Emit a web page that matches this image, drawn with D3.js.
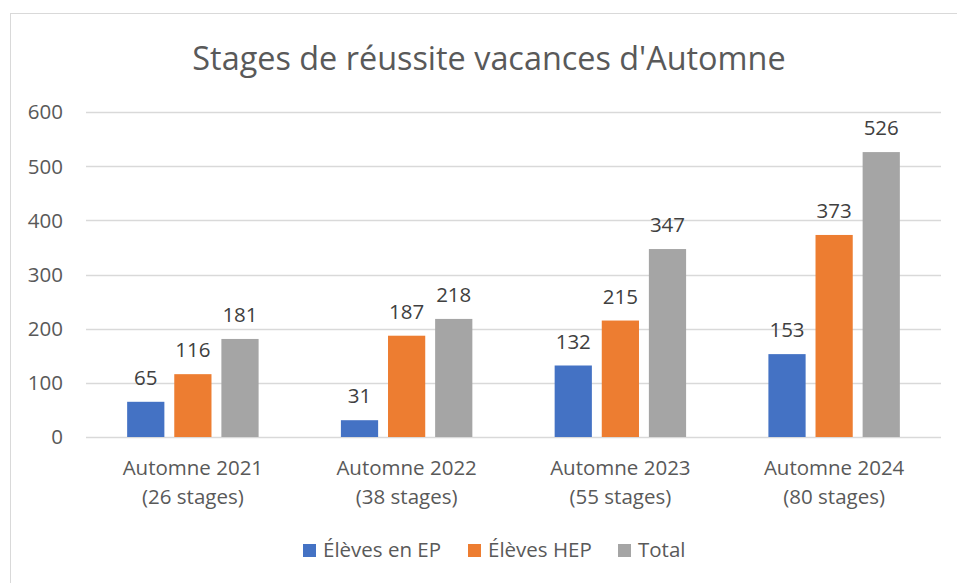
<!DOCTYPE html>
<html>
<head>
<meta charset="utf-8">
<script src="https://cdn.jsdelivr.net/npm/d3@7"></script>
<style>
  body { margin: 0; background: #fff; }
  text { font-family: "Open Sans", sans-serif; }
</style>
</head>
<body>
<div id="wrapper"></div>
<script>
const categories = ["Automne 2021", "Automne 2022", "Automne 2023", "Automne 2024"];
const subLabels = ["(26 stages)", "(38 stages)", "(55 stages)", "(80 stages)"];
const seriesNames = ["Élèves en EP", "Élèves HEP", "Total"];
const elevesEP = [65, 31, 132, 153];
const elevesHEP = [116, 187, 215, 373];
const total = [181, 218, 347, 526];
const yTicks = [0, 100, 200, 300, 400, 500, 600];

const colors = ["#4472C4", "#ED7D31", "#A5A5A5"];
const seriesValues = [elevesEP, elevesHEP, total];

const dimensions = {
  width: 957,
  height: 583,
  margin: { top: 112, right: 16, bottom: 146, left: 86 },
};
dimensions.boundedWidth = dimensions.width - dimensions.margin.left - dimensions.margin.right;
dimensions.boundedHeight = dimensions.height - dimensions.margin.top - dimensions.margin.bottom;

const wrapper = d3.select("#wrapper")
  .append("svg")
  .attr("width", dimensions.width)
  .attr("height", dimensions.height);

// cadre du graphique
wrapper.append("rect")
  .attr("x", 10.5).attr("y", 13.5)
  .attr("width", 980).attr("height", 600)
  .attr("fill", "none")
  .attr("stroke", "#D9D9D9");

wrapper.append("text")
  .attr("x", 489)
  .attr("y", 70)
  .attr("text-anchor", "middle")
  .style("font-size", "32.4px")
  .style("fill", "#595959")
  .text("Stages de réussite vacances d'Automne");

const bounds = wrapper.append("g")
  .attr("transform", `translate(${dimensions.margin.left},${dimensions.margin.top})`);

const xScale = d3.scaleBand()
  .domain(categories)
  .range([0, dimensions.boundedWidth])
  .paddingInner(0.385)
  .paddingOuter(0.1925);

const xSub = d3.scaleBand()
  .domain(seriesNames)
  .range([0, xScale.bandwidth()])
  .paddingInner(0.21);

const yScale = d3.scaleLinear()
  .domain([0, 600])
  .range([dimensions.boundedHeight, 0]);

// grille
bounds.append("g")
  .selectAll("line")
  .data(yTicks)
  .join("line")
  .attr("x1", 0)
  .attr("x2", dimensions.boundedWidth)
  .attr("y1", d => Math.round(yScale(d)) + 0.5)
  .attr("y2", d => Math.round(yScale(d)) + 0.5)
  .attr("stroke", "#D9D9D9")
  .attr("stroke-width", 1.3);

// étiquettes axe Y
bounds.append("g")
  .selectAll("text")
  .data(yTicks)
  .join("text")
  .attr("x", -23)
  .attr("y", d => yScale(d))
  .attr("dy", "0.36em")
  .attr("text-anchor", "end")
  .style("font-size", "20.5px")
  .style("fill", "#595959")
  .text(d => d);

// barres
const rows = categories.map((c, i) => ({
  category: c,
  values: seriesNames.map((s, j) => ({ series: s, value: seriesValues[j][i], color: colors[j] })),
}));

const groups = bounds.selectAll(".group")
  .data(rows)
  .join("g")
  .attr("class", "group")
  .attr("transform", d => `translate(${xScale(d.category)},0)`);

groups.selectAll("rect")
  .data(d => d.values)
  .join("rect")
  .attr("x", d => xSub(d.series))
  .attr("y", d => yScale(d.value))
  .attr("width", xSub.bandwidth())
  .attr("height", d => dimensions.boundedHeight - yScale(d.value))
  .attr("fill", d => d.color);

groups.selectAll(".valueLabel")
  .data(d => d.values)
  .join("text")
  .attr("class", "valueLabel")
  .attr("x", d => xSub(d.series) + xSub.bandwidth() / 2)
  .attr("y", d => yScale(d.value) - 17)
  .attr("text-anchor", "middle")
  .style("font-size", "20.5px")
  .style("fill", "#404040")
  .text(d => d.value);

// étiquettes axe X
const xLabels = bounds.append("g")
  .attr("transform", `translate(0,${dimensions.boundedHeight})`);

xLabels.selectAll(".cat")
  .data(categories)
  .join("text")
  .attr("class", "cat")
  .attr("x", d => xScale(d) + xScale.bandwidth() / 2)
  .attr("y", 38)
  .attr("text-anchor", "middle")
  .style("font-size", "20.5px")
  .style("fill", "#595959")
  .text(d => d);

xLabels.selectAll(".sub")
  .data(subLabels)
  .join("text")
  .attr("class", "sub")
  .attr("x", (d, i) => xScale(categories[i]) + xScale.bandwidth() / 2)
  .attr("y", 67)
  .attr("text-anchor", "middle")
  .style("font-size", "20.5px")
  .style("fill", "#595959")
  .text(d => d);

// légende
const legendX = [303, 468, 618];
const legend = wrapper.append("g");
const items = legend.selectAll("g")
  .data(seriesNames)
  .join("g")
  .attr("transform", (d, i) => `translate(${legendX[i]},544)`);

items.append("rect")
  .attr("width", 13)
  .attr("height", 13)
  .attr("fill", (d, i) => colors[i]);

items.append("text")
  .attr("x", 20)
  .attr("y", 13)
  .style("font-size", "20.5px")
  .style("fill", "#595959")
  .text(d => d);
</script>
</body>
</html>
